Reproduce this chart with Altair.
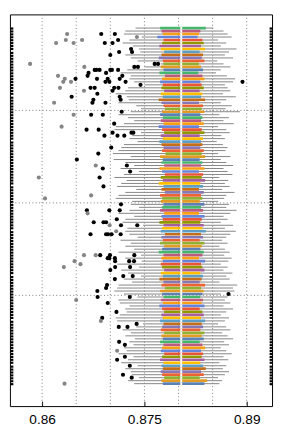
import altair as alt
import pandas as pd

N_ROWS = 120
ROWS = list(range(1, N_ROWS + 1))

# lower whisker end per row (row 1 = top)
LO = [0.8737, 0.8722, 0.8720, 0.8746, 0.8728, 0.8718, 0.8733, 0.8742, 0.8744, 0.8722,
      0.8730, 0.8740, 0.8774, 0.8750, 0.8725, 0.8715, 0.8730, 0.8728, 0.8735, 0.8750,
      0.8726, 0.8722, 0.8708, 0.8724, 0.8727, 0.8712, 0.8738, 0.8745, 0.8730, 0.8712,
      0.8726, 0.8735, 0.8720, 0.8708, 0.8706, 0.8745, 0.8732, 0.8728, 0.8740, 0.8720,
      0.8716, 0.8712, 0.8704, 0.8730, 0.8705, 0.8722, 0.8735, 0.8715, 0.8742, 0.8720,
      0.8706, 0.8724, 0.8716, 0.8710, 0.8738, 0.8722, 0.8712, 0.8708, 0.8732, 0.8730,
      0.8742, 0.8728, 0.8712, 0.8735, 0.8722, 0.8718, 0.8748, 0.8725, 0.8722, 0.8728,
      0.8740, 0.8715, 0.8730, 0.8722, 0.8735, 0.8712, 0.8745, 0.8722, 0.8746, 0.8710,
      0.8742, 0.8716, 0.8726, 0.8745, 0.8720, 0.8732, 0.8712, 0.8710, 0.8706, 0.8720,
      0.8740, 0.8712, 0.8714, 0.8728, 0.8722, 0.8724, 0.8714, 0.8708, 0.8710, 0.8748,
      0.8738, 0.8718, 0.8730, 0.8722, 0.8736, 0.8728, 0.8734, 0.8720, 0.8724, 0.8712,
      0.8734, 0.8726, 0.8716, 0.8740, 0.8722, 0.8730, 0.8732, 0.8742, 0.8726, 0.8735]

Q1 = [0.8773, 0.8775, 0.8777, 0.8769, 0.8778, 0.8776, 0.8772, 0.8774, 0.8779, 0.8775,
      0.8771, 0.8777, 0.8778, 0.8774, 0.8778, 0.8772, 0.8780, 0.8776, 0.8773, 0.8777,
      0.8775, 0.8779, 0.8774, 0.8777, 0.8771, 0.8775, 0.8778, 0.8780, 0.8776, 0.8773,
      0.8777, 0.8774, 0.8778, 0.8771, 0.8776, 0.8779, 0.8774, 0.8777, 0.8772, 0.8775,
      0.8778, 0.8776, 0.8781, 0.8773, 0.8777, 0.8775, 0.8779, 0.8772, 0.8776, 0.8780,
      0.8774, 0.8777, 0.8771, 0.8778, 0.8775, 0.8780, 0.8773, 0.8776, 0.8774, 0.8778,
      0.8776, 0.8773, 0.8779, 0.8775, 0.8777, 0.8772, 0.8778, 0.8776, 0.8774, 0.8780,
      0.8775, 0.8777, 0.8773, 0.8779, 0.8776, 0.8771, 0.8778, 0.8775, 0.8777, 0.8774,
      0.8776, 0.8779, 0.8774, 0.8777, 0.8772, 0.8778, 0.8775, 0.8780, 0.8773, 0.8776,
      0.8778, 0.8774, 0.8777, 0.8772, 0.8776, 0.8779, 0.8775, 0.8777, 0.8773, 0.8778,
      0.8776, 0.8774, 0.8779, 0.8775, 0.8777, 0.8773, 0.8778, 0.8776, 0.8774, 0.8779,
      0.8776, 0.8773, 0.8778, 0.8775, 0.8777, 0.8774, 0.8776, 0.8779, 0.8775, 0.8777]

MED = [0.8804] * N_ROWS

Q3 = [0.8840, 0.8832, 0.8830, 0.8828, 0.8835, 0.8837, 0.8833, 0.8839, 0.8831, 0.8836,
      0.8834, 0.8838, 0.8830, 0.8833, 0.8836, 0.8829, 0.8835, 0.8838, 0.8832, 0.8834,
      0.8837, 0.8831, 0.8835, 0.8833, 0.8839, 0.8830, 0.8836, 0.8834, 0.8838, 0.8832,
      0.8835, 0.8833, 0.8837, 0.8830, 0.8834, 0.8838, 0.8831, 0.8836, 0.8833, 0.8835,
      0.8832, 0.8837, 0.8834, 0.8839, 0.8831, 0.8835, 0.8833, 0.8838, 0.8830, 0.8836,
      0.8834, 0.8839, 0.8832, 0.8836, 0.8830, 0.8837, 0.8833, 0.8835, 0.8831, 0.8838,
      0.8833, 0.8836, 0.8830, 0.8838, 0.8834, 0.8832, 0.8837, 0.8835, 0.8840, 0.8833,
      0.8836, 0.8831, 0.8838, 0.8834, 0.8832, 0.8837, 0.8835, 0.8830, 0.8839, 0.8833,
      0.8835, 0.8838, 0.8832, 0.8836, 0.8834, 0.8831, 0.8839, 0.8833, 0.8837, 0.8835,
      0.8832, 0.8836, 0.8834, 0.8838, 0.8831, 0.8835, 0.8837, 0.8833, 0.8839, 0.8834,
      0.8836, 0.8832, 0.8838, 0.8834, 0.8837, 0.8831, 0.8835, 0.8839, 0.8833, 0.8836,
      0.8834, 0.8838, 0.8832, 0.8836, 0.8840, 0.8833, 0.8837, 0.8831, 0.8842, 0.8838]

HI = [0.8851, 0.8866, 0.8872, 0.8878, 0.8858, 0.8870, 0.8862, 0.8885, 0.8874, 0.8868,
      0.8880, 0.8857, 0.8866, 0.8876, 0.8862, 0.8855, 0.8871, 0.8883, 0.8880, 0.8868,
      0.8872, 0.8876, 0.8865, 0.8884, 0.8870, 0.8862, 0.8878, 0.8869, 0.8890, 0.8860,
      0.8874, 0.8866, 0.8881, 0.8858, 0.8870, 0.8875, 0.8863, 0.8868, 0.8856, 0.8865,
      0.8872, 0.8869, 0.8858, 0.8876, 0.8862, 0.8870, 0.8880, 0.8866, 0.8872, 0.8879,
      0.8860, 0.8873, 0.8868, 0.8875, 0.8864, 0.8882, 0.8870, 0.8867, 0.8858, 0.8874,
      0.8870, 0.8885, 0.8876, 0.8866, 0.8872, 0.8862, 0.8880, 0.8868, 0.8884, 0.8876,
      0.8870, 0.8864, 0.8872, 0.8860, 0.8868, 0.8875, 0.8867, 0.8878, 0.8873, 0.8862,
      0.8872, 0.8866, 0.8879, 0.8870, 0.8875, 0.8860, 0.8886, 0.8880, 0.8882, 0.8862,
      0.8872, 0.8868, 0.8876, 0.8866, 0.8880, 0.8870, 0.8862, 0.8874, 0.8868, 0.8858,
      0.8870, 0.8876, 0.8864, 0.8872, 0.8880, 0.8867, 0.8874, 0.8862, 0.8870, 0.8878,
      0.8866, 0.8873, 0.8860, 0.8870, 0.8865, 0.8874, 0.8868, 0.8858, 0.8864, 0.8860]

PALETTE = ["#5E81B5", "#E19C24", "#8FB032", "#EB6235", "#8778B3", "#C56E1A",
           "#5D9EC7", "#FFBF00", "#A5609D", "#929600", "#E95536", "#6685D9",
           "#F89F13", "#BC5B80", "#47B66D"]

OUTLIERS_NEAR = [
    (3, 0.86867), (3, 0.87067), (5, 0.87114), (6, 0.86919), (6, 0.87033), (8, 0.87305),
    (9, 0.87319), (9, 0.87129), (10, 0.87000), (13, 0.87650), (13, 0.87700), (14, 0.87352),
    (14, 0.87405), (15, 0.86771), (15, 0.86795), (15, 0.86843), (15, 0.87000), (15, 0.87024),
    (15, 0.87114), (16, 0.86681), (16, 0.86938), (17, 0.86667), (17, 0.87176), (18, 0.87138),
    (18, 0.86962), (18, 0.86805), (18, 0.86490), (19, 0.86986), (19, 0.86929), (19, 0.87224),
    (19, 0.88938), (20, 0.87443), (21, 0.86710), (21, 0.86771), (21, 0.87057), (21, 0.87119),
    (22, 0.87033), (23, 0.86810), (24, 0.86433), (24, 0.87138), (25, 0.87152), (25, 0.86752),
    (26, 0.86738), (26, 0.86929), (29, 0.87167), (30, 0.86719), (30, 0.86890), (33, 0.87057),
    (35, 0.86652), (35, 0.86829), (36, 0.87033), (36, 0.87310), (36, 0.87338), (37, 0.86914),
    (37, 0.87105), (37, 0.87205), (41, 0.87014), (43, 0.86824), (45, 0.86510), (47, 0.87243),
    (48, 0.86890), (49, 0.87290), (51, 0.86843), (54, 0.86900), (60, 0.87157), (62, 0.86657),
    (62, 0.86986), (62, 0.87138), (65, 0.87095), (66, 0.86757), (66, 0.86900), (66, 0.86938),
    (67, 0.87157), (67, 0.87395), (70, 0.86710), (70, 0.86938), (70, 0.86967), (70, 0.87019),
    (70, 0.87152), (77, 0.86852), (77, 0.86995), (77, 0.87352), (78, 0.86962), (78, 0.86986),
    (78, 0.87067), (79, 0.87071), (79, 0.87276), (79, 0.87348), (81, 0.87071), (81, 0.87290),
    (82, 0.87000), (84, 0.87190), (84, 0.87329), (85, 0.87067), (87, 0.86952), (88, 0.86938),
    (89, 0.86810), (90, 0.88733), (91, 0.86814), (91, 0.87286), (93, 0.86962), (96, 0.87090),
    (98, 0.86881), (100, 0.87386), (101, 0.87124), (101, 0.87252), (106, 0.87129),
    (107, 0.87214), (111, 0.87214), (112, 0.87100), (114, 0.87286), (117, 0.87186),
    (118, 0.87314)]

OUTLIERS_FAR = [
    (3, 0.86367), (4, 0.87390), (5, 0.86348), (5, 0.86586), (6, 0.86205), (6, 0.86462),
    (13, 0.85824), (14, 0.86619), (17, 0.86233), (18, 0.86333), (19, 0.86310), (19, 0.86424),
    (21, 0.86262), (22, 0.86614), (26, 0.86176), (30, 0.86462), (34, 0.86286), (47, 0.86786),
    (51, 0.85952), (57, 0.86719), (58, 0.86043), (63, 0.86667), (67, 0.86990), (69, 0.87086),
    (77, 0.86614), (77, 0.86786), (79, 0.86476), (80, 0.86562), (81, 0.86319), (92, 0.86500),
    (99, 0.86862), (109, 0.87100), (120, 0.86329)]

X_TICKS = [0.86, 0.875, 0.89]
X_GRID = [0.86, 0.865, 0.87, 0.875, 0.88, 0.885, 0.89]
Y_GRID = [28.55, 59.5, 90.45]
X_DOMAIN = [0.855286, 0.893714]
Y_DOMAIN = [-3.565, 127.51]

boxes = pd.DataFrame({
    "row": ROWS, "lo": LO, "q1": Q1, "med": MED, "q3": Q3, "hi": HI,
    "col": [PALETTE[(N_ROWS - r) % len(PALETTE)] for r in ROWS],
})
outl = pd.DataFrame(
    [{"row": r, "v": v, "col": "#000000"} for r, v in OUTLIERS_NEAR]
    + [{"row": r, "v": v, "col": "#858585"} for r, v in OUTLIERS_FAR]
)

xs = alt.Scale(domain=X_DOMAIN, nice=False, zero=False)
ys = alt.Scale(domain=Y_DOMAIN, nice=False, zero=False, reverse=True)

x_axis = alt.Axis(values=X_TICKS, format=".3~f", title=None, grid=False, domain=False,
                  tickSize=5, offset=-5, tickColor="black", tickWidth=1,
                  labelFont="Liberation Sans", labelFontSize=14, labelColor="black",
                  labelPadding=7, orient="bottom")
y_left = alt.Axis(values=ROWS, labels=False, title=None, grid=False, domain=False,
                  tickSize=3, offset=-3, tickColor="black", tickWidth=2.2, orient="left")
y_right = alt.Axis(values=ROWS, labels=False, title=None, grid=False, domain=False,
                   tickSize=3, offset=-3, tickColor="black", tickWidth=2.2, orient="right")

vgrid = alt.Chart(pd.DataFrame({"x": X_GRID})).mark_rule(
    color="#7a7a7a", strokeDash=[1, 2.5], strokeWidth=1
).encode(x=alt.X("x:Q", scale=xs, axis=x_axis))

hgrid = alt.Chart(pd.DataFrame({"y": Y_GRID})).mark_rule(
    color="#7a7a7a", strokeDash=[1, 2.5], strokeWidth=1
).encode(y=alt.Y("y:Q", scale=ys, axis=y_left))

base = alt.Chart(boxes).transform_calculate(
    y0="datum.row - 0.45", y1="datum.row + 0.45"
)

whiskers = base.mark_rule(color="#848484", strokeWidth=1).encode(
    x=alt.X("lo:Q", scale=xs, axis=None),
    x2="hi:Q",
    y=alt.Y("row:Q", scale=ys, axis=None),
)

rects = base.mark_rect().encode(
    x=alt.X("q1:Q", scale=xs, axis=None),
    x2="q3:Q",
    y=alt.Y("y0:Q", scale=ys, axis=y_right),
    y2="y1:Q",
    color=alt.Color("col:N", scale=None),
)

medians = base.mark_rule(color="white", strokeWidth=2).encode(
    x=alt.X("med:Q", scale=xs, axis=None),
    y=alt.Y("y0:Q", scale=ys, axis=None),
    y2="y1:Q",
)

points = alt.Chart(outl).mark_circle(size=18, opacity=1).encode(
    x=alt.X("v:Q", scale=xs, axis=None),
    y=alt.Y("row:Q", scale=ys, axis=None),
    color=alt.Color("col:N", scale=None),
)

chart = alt.layer(vgrid, hgrid, whiskers, rects, medians, points).resolve_axis(
    x="independent", y="independent"
).properties(width=269, height=402, padding=0).configure_view(
    stroke="black", strokeWidth=1
)

chart.save("out.html", embed_options={"renderer": "svg", "actions": False})
